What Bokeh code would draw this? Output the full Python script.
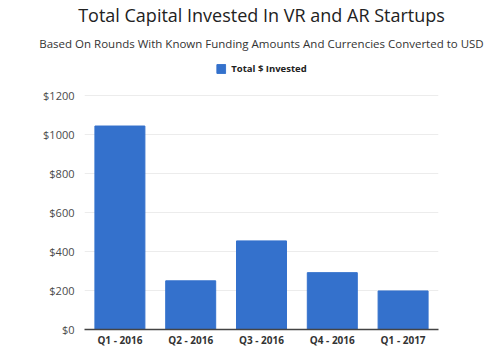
from bokeh.plotting import figure
from bokeh.models import (ColumnDataSource, Title, Legend, LegendItem, FixedTicker,
                          NumeralTickFormatter, Range1d)
from bokeh.embed import file_html
from bokeh.resources import INLINE

quarters = ["Q1 - 2016", "Q2 - 2016", "Q3 - 2016", "Q4 - 2016", "Q1 - 2017"]
invested = [1045, 250, 455, 292, 198]
y_ticks = [0, 200, 400, 600, 800, 1000, 1200]

FONT = "Open Sans"
BLUE = "#3471cc"

src = ColumnDataSource(dict(q=quarters, v=invested))

p = figure(x_range=quarters, y_range=Range1d(0, 1402), width=484, height=349,
           output_backend="svg", toolbar_location=None,
           min_border_left=84, min_border_right=46, min_border_bottom=17, min_border_top=0)
p.outline_line_color = None
p.background_fill_color = "white"
p.border_fill_color = "white"

r = p.vbar(x="q", top="v", width=0.706, source=src, fill_color=BLUE, line_color=BLUE)

p.xgrid.grid_line_color = None
p.ygrid.grid_line_color = "#ececec"
p.ygrid.grid_line_width = 1

p.yaxis.ticker = FixedTicker(ticks=y_ticks)
p.yaxis.formatter = NumeralTickFormatter(format="$0")
p.yaxis.axis_line_color = None
p.yaxis.major_tick_line_color = None
p.yaxis.minor_tick_line_color = None
p.yaxis.major_tick_out = 0
p.yaxis.major_tick_in = 0
p.yaxis.major_label_standoff = 10
p.yaxis.major_label_text_font = FONT
p.yaxis.major_label_text_font_size = "11px"
p.yaxis.major_label_text_color = "#4a4a4a"

p.xaxis.axis_line_color = "#444444"
p.xaxis.axis_line_width = 1.5
p.xaxis.major_tick_line_color = None
p.xaxis.minor_tick_line_color = None
p.xaxis.major_tick_out = 0
p.xaxis.major_tick_in = 0
p.xaxis.major_label_standoff = 3
p.xaxis.major_label_text_font = FONT
p.xaxis.major_label_text_font_size = "10px"
p.xaxis.major_label_text_font_style = "bold"
p.xaxis.major_label_text_color = "#333333"

legend = Legend(items=[LegendItem(label="Total $ Invested", renderers=[r])],
                orientation="horizontal", location="top_center",
                border_line_color=None, background_fill_alpha=0,
                glyph_width=11, glyph_height=11, label_text_font=FONT,
                label_text_font_size="9.5px", label_text_font_style="bold",
                label_text_color="#222222", padding=4, margin=6, spacing=4,
                label_standoff=5, label_height=11)
p.add_layout(legend, "center")

p.add_layout(Title(text="Based On Rounds With Known Funding Amounts And Currencies Converted to USD",
                   align="center", text_font=FONT, text_font_size="11.5px",
                   text_font_style="normal", text_color="#333333", standoff=12), "above")
p.add_layout(Title(text="Total Capital Invested In VR and AR Startups",
                   align="center", text_font=FONT, text_font_size="18px",
                   text_font_style="normal", text_color="#222222", standoff=1), "above")

open("out.html", "w").write(file_html(p, INLINE))
